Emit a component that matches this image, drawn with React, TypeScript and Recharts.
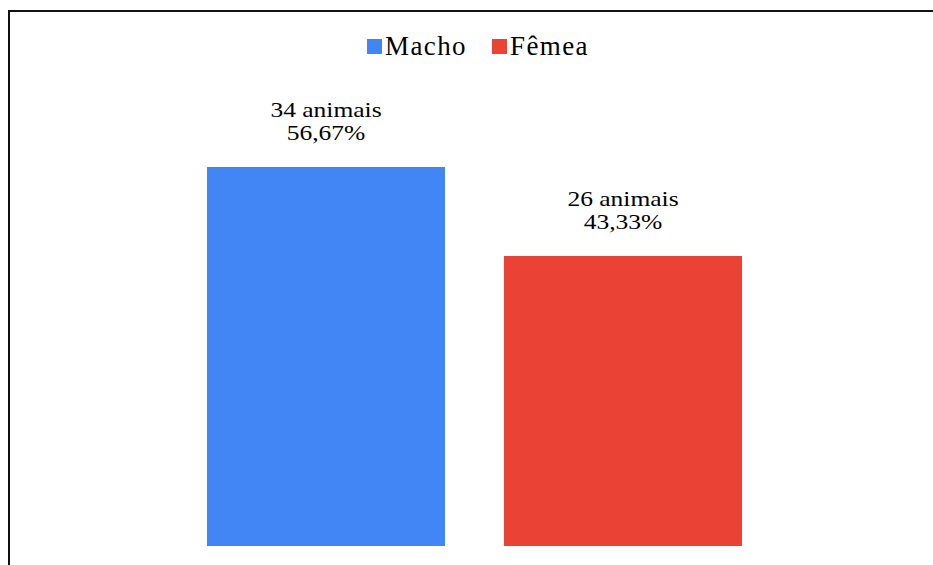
import { BarChart, Bar, XAxis, YAxis, Legend, LabelList } from "recharts"

const SERIES = ["Macho", "Fêmea"]
const ANIMAIS = [34, 26]
const COLORS = ["#4285F4", "#EA4335"]

const FONT = "Liberation Serif"

const TOTAL = ANIMAIS.reduce((s, v) => s + v, 0)
const pct = (v: number) => ((v / TOTAL) * 100).toFixed(2).replace(".", ",") + "%"

// one category, one series per sex
const row: Record<string, string | number> = { name: "" }
SERIES.forEach((s, i) => {
  row[s] = ANIMAIS[i]
})
const data = [row]

function BarLabel(props: any) {
  const { x, y, width, value } = props
  const cx = Number(x) + Number(width) / 2
  const top = Number(y)
  const txt = { textAnchor: "middle" as const, fontSize: 22, fontFamily: FONT, fill: "#000" }
  return (
    <g>
      <text transform={`translate(${cx},${top - 50}) scale(1.16,1)`} {...txt}>
        {value} animais
      </text>
      <text transform={`translate(${cx},${top - 27}) scale(1.16,1)`} {...txt}>
        {pct(Number(value))}
      </text>
    </g>
  )
}

function LegendRow({ payload }: any) {
  // keep series order instead of the legend's alphabetical sort
  const items = [...(payload ?? [])].sort(
    (a: any, b: any) => SERIES.indexOf(a.value) - SERIES.indexOf(b.value)
  )
  return (
    <div style={{ display: "flex", alignItems: "center", fontFamily: FONT }}>
      {items.map((p: any, i: number) => (
        <div
          key={p.value}
          style={{ display: "flex", alignItems: "center", marginLeft: i === 0 ? 0 : 25 }}
        >
          <span style={{ width: 15, height: 15, background: p.color, display: "inline-block" }} />
          <span
            style={{
              marginLeft: 3,
              fontSize: 27,
              lineHeight: "27px",
              letterSpacing: 1.4,
              color: "#000",
            }}
          >
            {p.value}
          </span>
        </div>
      ))}
    </div>
  )
}

export default function App() {
  return (
    <div style={{ position: "absolute", left: 0, top: 0, width: 933, height: 565, background: "#fff", overflow: "hidden" }}>
      {/* frame: left and top edges only */}
      <div
        style={{
          position: "absolute",
          left: 8,
          top: 10,
          right: 0,
          bottom: 0,
          borderLeft: "2px solid #111",
          borderTop: "2px solid #111",
        }}
      />
      <div style={{ position: "absolute", left: 0, top: 0 }}>
        <BarChart
          width={933}
          height={565}
          data={data}
          margin={{ top: 100, right: 171, bottom: 19, left: 187 }}
          barCategoryGap={20}
          barGap={59}
        >
          <XAxis dataKey="name" hide />
          <YAxis hide domain={[0, 40]} />
          <Legend
            verticalAlign="middle"
            align="center"
            content={<LegendRow />}
            wrapperStyle={{ top: 33, left: 367, width: "auto" }}
          />
          {SERIES.map((s, i) => (
            <Bar key={s} dataKey={s} name={s} fill={COLORS[i]} isAnimationActive={false}>
              <LabelList dataKey={s} content={<BarLabel />} />
            </Bar>
          ))}
        </BarChart>
      </div>
    </div>
  )
}
